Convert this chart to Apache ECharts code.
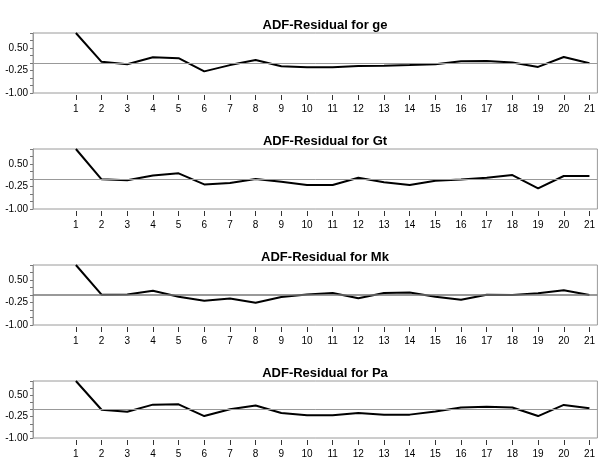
<!DOCTYPE html>
<html>
<head>
<meta charset="utf-8">
<script src="https://cdn.jsdelivr.net/npm/echarts@6/dist/echarts.min.js"></script>
<style>
html,body{margin:0;padding:0;background:#fff;}
#chart{width:598px;height:459px;}
</style>
</head>
<body>
<div id="chart"></div>
<script>
const periods = [1,2,3,4,5,6,7,8,9,10,11,12,13,14,15,16,17,18,19,20,21];
const titles = ['ADF-Residual for ge','ADF-Residual for Gt','ADF-Residual for Mk','ADF-Residual for Pa'];
const ge = [1.0, 0.04, -0.04, 0.19, 0.16, -0.28, -0.07, 0.10, -0.11, -0.14, -0.14, -0.10, -0.09, -0.07, -0.04, 0.06, 0.07, 0.02, -0.13, 0.20, -0.01];
const Gt = [1.0, -0.01, -0.04, 0.12, 0.19, -0.18, -0.13, 0.0, -0.09, -0.20, -0.20, 0.04, -0.11, -0.20, -0.06, -0.02, 0.04, 0.13, -0.31, 0.10, 0.10];
const Mk = [1.0, 0.01, 0.02, 0.14, -0.06, -0.19, -0.12, -0.26, -0.07, 0.02, 0.07, -0.11, 0.07, 0.08, -0.06, -0.16, 0.01, 0.0, 0.06, 0.16, 0.0];
const Pa = [1.0, -0.01, -0.08, 0.17, 0.18, -0.23, 0.01, 0.14, -0.12, -0.20, -0.20, -0.12, -0.18, -0.18, -0.07, 0.07, 0.10, 0.07, -0.23, 0.16, 0.04];
const yTickLabels = [-1.00, -0.25, 0.50];
const seriesList = [ge, Gt, Mk, Pa];

const FONT = '"Liberation Sans Narrow", "Arial Narrow", "Liberation Sans", sans-serif';
const tops = [33, 149, 265, 381];
const gridH = 60;

const chart = echarts.init(document.getElementById('chart'), null, {renderer:'canvas'});
const option = {
  backgroundColor: '#ffffff',
  animation: false,
  title: [], grid: [], xAxis: [], yAxis: [], series: []
};
seriesList.forEach((vals, k) => {
  option.title.push({
    text: titles[k],
    left: 320, top: tops[k] - 19,
    textAlign: 'center',
    textStyle: {fontFamily: FONT, fontWeight: 'bold', fontSize: 13, color: '#000'}
  });
  option.grid.push({
    left: 33, right: 0, top: tops[k], height: gridH,
    show: true, borderColor: '#9a9a9a', borderWidth: 1, backgroundColor: 'transparent'
  });
  option.xAxis.push({
    type: 'value', gridIndex: k, min: -0.67, max: 21.31,
    offset: 2,
    axisLine: {show: false, onZero: false},
    splitLine: {show: false},
    axisTick: {show: true, length: 5, customValues: periods, lineStyle: {color: '#333'}},
    axisLabel: {customValues: periods, margin: 9, fontFamily: FONT, fontSize: 10, color: '#000',
                formatter: v => String(v)}
  });
  option.yAxis.push({
    type: 'value', gridIndex: k, min: -1, max: 1, interval: 0.25,
    axisLine: {show: true, onZero: false, lineStyle: {color: '#9a9a9a'}},
    splitLine: {show: false},
    axisTick: {show: true, length: 3, lineStyle: {color: '#777'}},
    axisLabel: {
      margin: 5, fontFamily: FONT, fontSize: 10, color: '#000',
      formatter: v => yTickLabels.some(t => Math.abs(t - v) < 1e-6) ? v.toFixed(2) : ''
    }
  });
  option.series.push({
    type: 'line', xAxisIndex: k, yAxisIndex: k,
    data: periods.map((p, i) => [p, vals[i]]),
    showSymbol: false, symbol: 'none',
    lineStyle: {color: '#000', width: 2},
    clip: true,
    markLine: {
      silent: true, symbol: 'none', label: {show: false},
      lineStyle: {color: k === 2 ? '#777' : '#999', width: k === 2 ? 1.5 : 1, type: 'solid'},
      data: [{yAxis: 0}]
    },
    z: 3
  });
});
chart.setOption(option);
</script>
</body>
</html>
